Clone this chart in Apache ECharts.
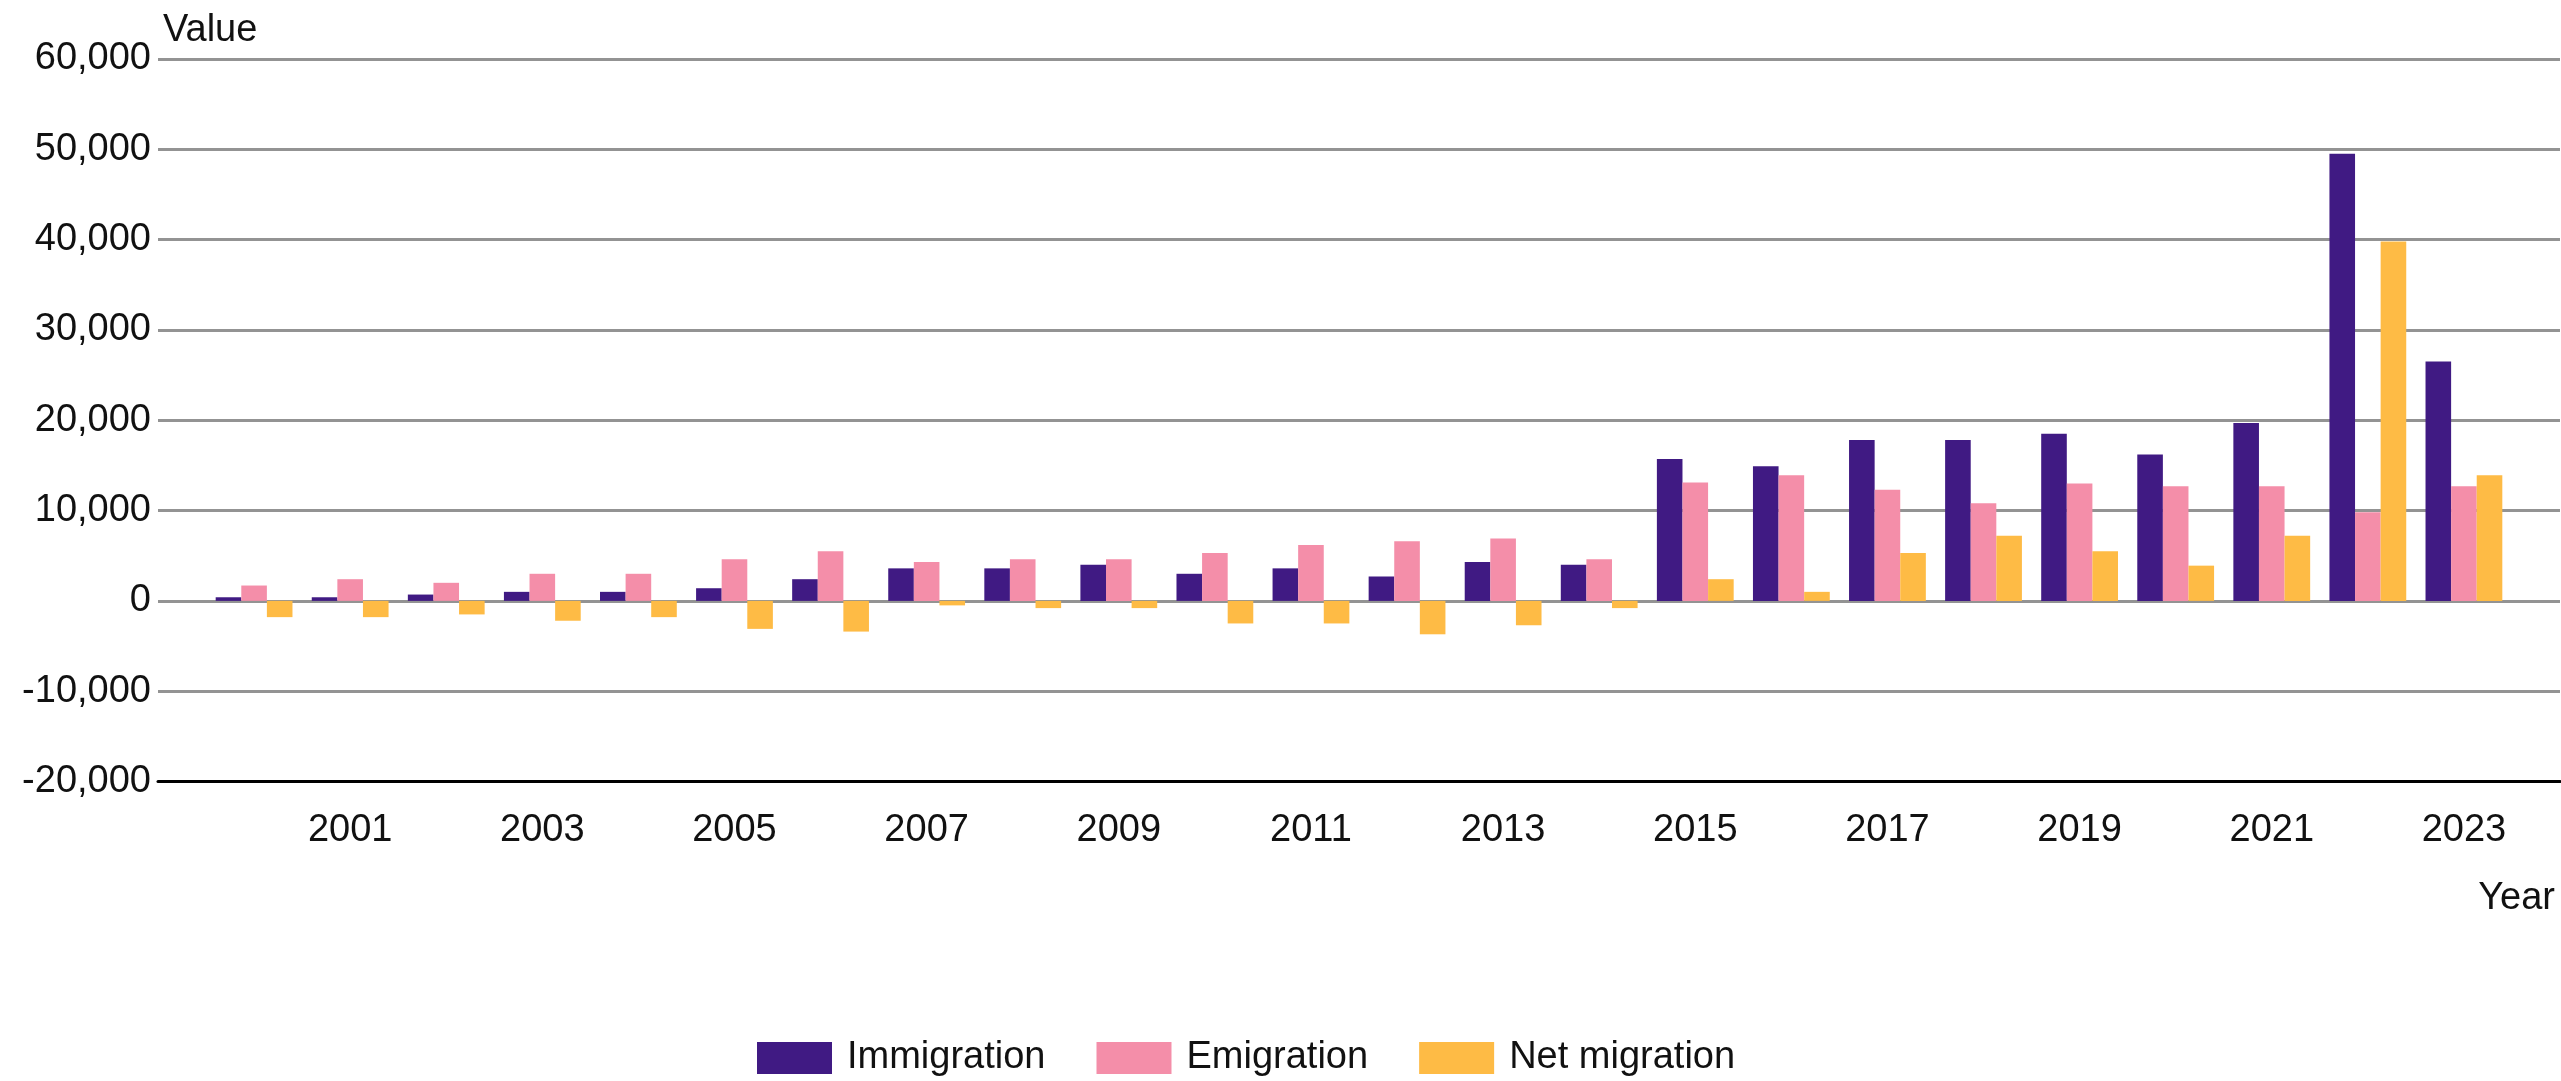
<!DOCTYPE html>
<html>
<head>
<meta charset="utf-8">
<script src="https://cdn.jsdelivr.net/npm/echarts@6/dist/echarts.min.js"></script>
<style>
html,body{margin:0;padding:0;background:#fff;}
#chart{width:2561px;height:1081px;}
</style>
</head>
<body>
<div id="chart"></div>
<script>
const years = ['2000','2001','2002','2003','2004','2005','2006','2007','2008','2009','2010','2011','2012','2013','2014','2015','2016','2017','2018','2019','2020','2021','2022','2023'];
const immigration = [400,400,700,1000,1000,1400,2400,3600,3600,4000,3000,3600,2700,4300,4000,15700,14900,17800,17800,18500,16200,19700,49500,26500];
const emigration = [1700,2400,2000,3000,3000,4600,5500,4300,4600,4600,5300,6200,6600,6900,4600,13100,13900,12300,10800,13000,12700,12700,9800,12700];
const netMigration = [-1800,-1800,-1500,-2200,-1800,-3100,-3400,-500,-800,-800,-2500,-2500,-3700,-2700,-800,2400,1000,5300,7200,5500,3900,7200,39800,13900];
const seriesNames = ['Immigration','Emigration','Net migration'];
const colors = ['#401A83','#F48EA9','#FEBB45'];
const yMin = -20000, yMax = 60000, yStep = 10000;

const FONT = "'Liberation Sans', Arial, sans-serif";
const FS = 38;
const TXT = '#111';
const chart = echarts.init(document.getElementById('chart'), null, {renderer:'canvas'});
const mk = (name, arr, c) => ({
  name, type:'bar', data: arr, xAxisIndex:1, yAxisIndex:1,
  barWidth: 25.6, barGap: '0%',
  itemStyle:{color:c}, emphasis:{disabled:true}
});
const TOP = 59, BOTTOM = 299.5, LEFT = 158, RIGHT = 1, HALF = 48.04;
chart.setOption({
  animation:false,
  color: colors,
  textStyle:{fontFamily:FONT, color:TXT},
  title:{text:'Year', right:6, top:880, padding:0,
    textStyle:{fontSize:FS, fontFamily:FONT, color:TXT, fontWeight:'normal'}},
  grid:[
    {left:LEFT, right:RIGHT, top:TOP, bottom:BOTTOM},
    {left:LEFT+HALF, right:RIGHT+HALF, top:TOP, bottom:BOTTOM}
  ],
  legend:{
    data: seriesNames, left:752, top:1034, icon:'rect',
    itemWidth:75, itemHeight:32, itemGap:51,
    textStyle:{fontSize:FS, fontFamily:FONT, color:TXT, padding:[0,0,0,10]}
  },
  xAxis:[
    { gridIndex:0, type:'value', min:0, max:1,
      axisLine:{onZero:false, lineStyle:{color:'#000', width:3}},
      axisTick:{show:false}, axisLabel:{show:false}, splitLine:{show:false} },
    { gridIndex:1, type:'category', data: years, boundaryGap:true,
      axisLine:{show:false}, axisTick:{show:false}, splitLine:{show:false},
      axisLabel:{interval:(i)=>i%2===1, fontSize:FS, fontFamily:FONT, color:TXT, margin:30} }
  ],
  yAxis:[
    { gridIndex:0, type:'value', min:yMin, max:yMax, interval:yStep,
      name:'Value', nameLocation:'end', nameGap:28,
      nameTextStyle:{fontSize:FS, fontFamily:FONT, color:TXT, align:'left', verticalAlign:'middle', padding:[0,0,0,5]},
      axisLine:{show:false}, axisTick:{show:false},
      splitLine:{lineStyle:{color:'#939393', width:3}},
      axisLabel:{fontSize:FS, fontFamily:FONT, color:TXT, margin:7} },
    { gridIndex:1, type:'value', min:yMin, max:yMax, interval:yStep,
      axisLine:{show:false}, axisTick:{show:false}, axisLabel:{show:false}, splitLine:{show:false} }
  ],
  series:[
    mk(seriesNames[0], immigration, colors[0]),
    mk(seriesNames[1], emigration, colors[1]),
    mk(seriesNames[2], netMigration, colors[2])
  ]
});
</script>
</body>
</html>
